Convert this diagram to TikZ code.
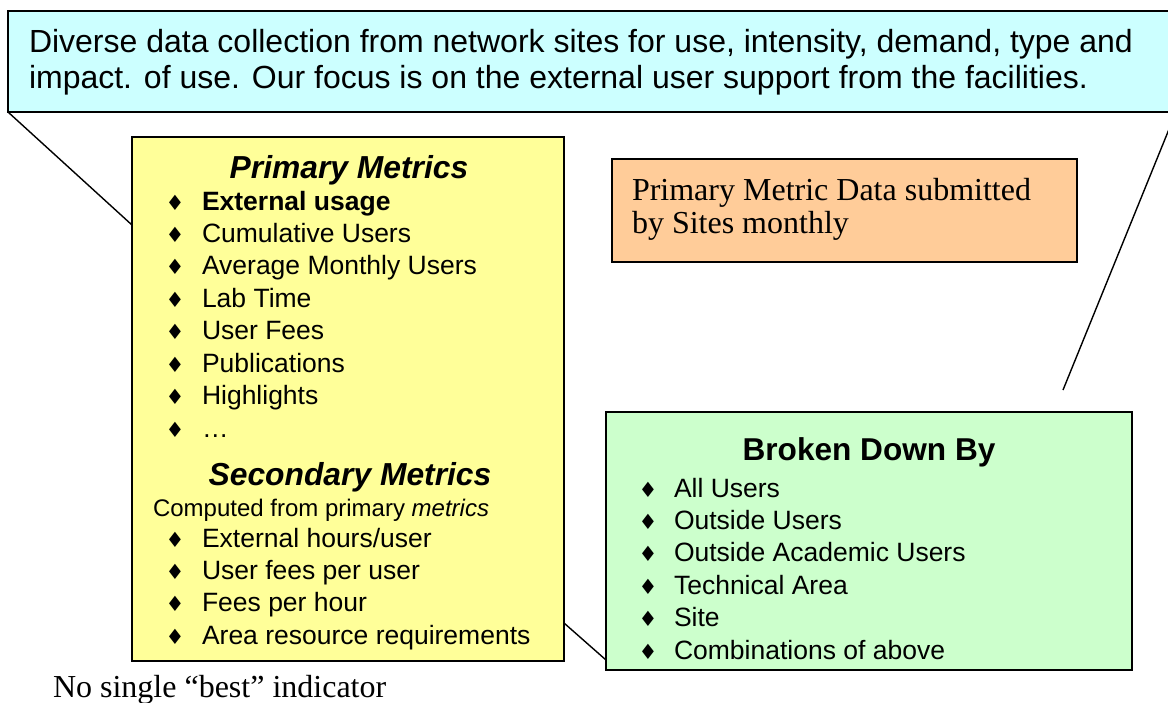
\documentclass[tikz,border=0pt]{standalone}
\usepackage{fontspec}
\setmainfont{Liberation Serif}
\newfontfamily\arial{Liberation Sans}
\newfontfamily\dvs{DejaVu Sans}
\newcommand\bul{{\dvs\fontsize{21}{21}\selectfont ♦}}
\definecolor{cyanbox}{HTML}{CCFFFF}
\definecolor{yellowbox}{HTML}{FFFF99}
\definecolor{orangebox}{HTML}{FFCC99}
\definecolor{greenbox}{HTML}{CCFFCC}
\begin{document}
\begin{tikzpicture}[x=1pt,y=-1pt,
  box/.style={draw=black, line width=1.6pt, inner sep=0pt, outer sep=0pt, anchor=north west},
  lbl/.style={anchor=base west, inner sep=0pt, outer sep=0pt},
  ctr/.style={anchor=base, inner sep=0pt, outer sep=0pt},
  cyantext/.style={lbl, font=\arial\fontsize{32}{36}\selectfont},
  itemtext/.style={lbl, font=\arial\fontsize{26.5}{32}\selectfont},
  headtext/.style={ctr, font=\arial\fontsize{31.8}{36}\selectfont\bfseries\itshape},
  serif/.style={lbl, font=\fontsize{32}{36}\selectfont},
  bullet/.style={ctr},
  pointer/.style={draw=black, line width=1.4pt}
  ]
\useasboundingbox (0,0) rectangle (1168,702);
% boxes
\node[box, fill=cyanbox, minimum width=1168pt, minimum height=101pt] (cyan) at (8,11) {};
\node[box, fill=yellowbox, minimum width=432pt, minimum height=524pt] (yellow) at (132,137) {};
\node[box, fill=orangebox, minimum width=465pt, minimum height=103pt] (orange) at (612,159) {};
\node[box, fill=greenbox, minimum width=526pt, minimum height=258pt] (green) at (606,412) {};
% pointers
\coordinate (rl) at (1063,390);
\draw[pointer] (cyan.south west) -- ([yshift=-88pt]yellow.north west);
\draw[pointer] (cyan.south east) -- (rl);
\draw[pointer] ([yshift=38pt]yellow.south east) -- ([yshift=10pt]green.south west);
% cyan text
\node[cyantext] (c1) at (29,52) {Diverse data collection from network sites for use, intensity, demand, type and};
\node[cyantext] (c2) at (29,88) {impact. of use. Our focus is on the external user support from the facilities.};
% yellow
\node[headtext] (ph) at (349,178) {Primary Metrics};
\foreach \t [count=\i from 0] in {{\bfseries External usage},Cumulative Users,Average Monthly Users,Lab Time,User Fees,Publications,Highlights,…}{
  \node[bullet] (pb\i) at (175,210+32.45*\i) {\bul};
  \node[itemtext] (pt\i) at (202,210+32.45*\i) {\t};
}
\node[headtext] (sh) at (350,485) {Secondary Metrics};
\node[lbl, font=\arial\fontsize{24}{28}\selectfont] (sc) at (153,516) {Computed from primary \textit{metrics}};
\foreach \t [count=\i from 0] in {External hours/user,User fees per user,Fees per hour,Area resource requirements}{
  \node[bullet] (sb\i) at (175,547+32.4*\i) {\bul};
  \node[itemtext] (st\i) at (202,547+32.4*\i) {\t};
}
% orange
\node[serif] (o1) at (632,200) {Primary Metric Data submitted};
\node[serif] (o2) at (632,233) {by Sites monthly};
% green
\node[ctr, font=\arial\fontsize{31.6}{36}\selectfont\bfseries] (gh) at (869,460) {Broken Down By};
\foreach \t [count=\i from 0] in {All Users,Outside Users,Outside Academic Users,Technical Area,Site,Combinations of above}{
  \node[bullet] (gb\i) at (648,497+32.4*\i) {\bul};
  \node[itemtext] (gt\i) at (674,497+32.4*\i) {\t};
}
% bottom
\node[serif] (nb) at (53,697) {No single “best” indicator};
\end{tikzpicture}
\end{document}
